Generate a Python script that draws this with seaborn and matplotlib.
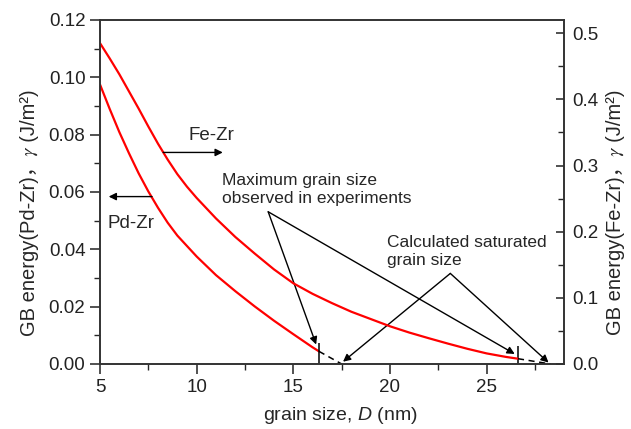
import matplotlib
matplotlib.use("Agg")
import matplotlib.pyplot as plt
import seaborn as sns
from matplotlib.ticker import MultipleLocator, FormatStrFormatter

# ---- data ----
pd_x = [5.0, 5.5, 6.0, 6.5, 7.0, 7.5, 8.0, 8.5, 9.0, 10.0, 11.0, 12.0, 13.0, 14.0, 15.0, 16.0, 16.33]
pd_y = [0.0975, 0.0890, 0.0809, 0.0735, 0.0665, 0.0602, 0.0545, 0.0493, 0.0448, 0.0375,
        0.0310, 0.0254, 0.0201, 0.0151, 0.0104, 0.0058, 0.0044]
fe_x = [5.0, 5.5, 6.0, 6.5, 7.0, 7.5, 8.0, 8.5, 9.0, 9.5, 10.0, 11.0, 12.0, 13.0, 14.0, 15.0,
        16.0, 17.0, 18.0, 19.0, 20.0, 21.0, 22.0, 23.0, 24.0, 25.0, 26.0, 26.62]
fe_y = [0.485, 0.462, 0.438, 0.412, 0.386, 0.359, 0.333, 0.309, 0.287, 0.268, 0.251, 0.220,
        0.192, 0.167, 0.143, 0.122, 0.106, 0.092, 0.079, 0.068, 0.057, 0.0475, 0.0390,
        0.0308, 0.0230, 0.0160, 0.0107, 0.008]
pd_ext_x = [16.33, 17.5]
pd_ext_y = [0.0044, 0.0]
fe_ext_x = [26.62, 28.3]
fe_ext_y = [0.008, 0.0]
max_obs = [16.33, 26.62]          # maximum grain size observed in experiments
saturated = [17.5, 28.2]          # calculated saturated grain size

sns.set_style("ticks")
plt.rcParams['font.family'] = ['Liberation Sans', 'Noto Sans CJK SC', 'STIXGeneral', 'DejaVu Sans']
plt.rcParams['mathtext.fontset'] = 'custom'
plt.rcParams['mathtext.rm'] = 'Liberation Sans'
plt.rcParams['mathtext.it'] = 'Liberation Sans:italic'

fig = plt.figure(figsize=(6.31, 4.29), dpi=100)
ax = fig.add_axes([100/631, 1-364/429, 464/631, 344/429])
ax2 = ax.twinx()

sns.lineplot(x=pd_x, y=pd_y, ax=ax, color='#ff0000', lw=1.6)
sns.lineplot(x=pd_ext_x, y=pd_ext_y, ax=ax, color='black', lw=1.1, linestyle=(0, (4, 3)))
sns.lineplot(x=fe_x, y=fe_y, ax=ax2, color='#ff0000', lw=1.6)
sns.lineplot(x=fe_ext_x, y=fe_ext_y, ax=ax2, color='black', lw=1.1, linestyle=(0, (4, 3)))

ax.vlines(max_obs, 0, [0.0073, 0.0062], color='black', lw=1.1)

ax.set_xlim(5, 29)
ax.set_ylim(0, 0.12)
ax2.set_ylim(0, 0.52)

ax.xaxis.set_major_locator(MultipleLocator(5))
ax.xaxis.set_minor_locator(MultipleLocator(2.5))
ax.yaxis.set_major_locator(MultipleLocator(0.02))
ax.yaxis.set_minor_locator(MultipleLocator(0.01))
ax.yaxis.set_major_formatter(FormatStrFormatter('%.2f'))
ax2.yaxis.set_major_locator(MultipleLocator(0.1))
ax2.yaxis.set_minor_locator(MultipleLocator(0.05))
ax2.yaxis.set_major_formatter(FormatStrFormatter('%.1f'))

for a in (ax, ax2):
    for s in a.spines.values():
        s.set_visible(True)
        s.set_linewidth(1.2)
        s.set_color('#333333')
ax.tick_params(axis='both', which='major', direction='out', length=7, width=1.1,
               labelsize=13.5, colors='#222222', right=False, top=False)
ax.tick_params(axis='both', which='minor', direction='out', length=4, width=1.0,
               right=False, top=False)
ax2.tick_params(axis='y', which='major', direction='in', length=6, width=1.1,
                labelsize=13.5, colors='#222222', pad=6)
ax2.tick_params(axis='y', which='minor', direction='in', length=4, width=1.0)

ax.set_xlabel("grain size, $\\mathit{D}$ (nm)", fontsize=14)
ax.xaxis.set_label_coords(0.518, -0.118)
ylab_l = "GB energy(Pd-Zr)，\U0001D6FE (J/m²)"
ylab_r = "GB energy(Fe-Zr)，\U0001D6FE (J/m²)"
ax.set_ylabel(ylab_l, fontsize=14.5)
ax.yaxis.set_label_coords(-0.131, 0.44)
ax2.set_ylabel(ylab_r, fontsize=14.5)
ax2.yaxis.set_label_coords(1.09, 0.44)

aprops = dict(arrowstyle='-|>', color='black', lw=1.0, mutation_scale=11,
              shrinkA=0, shrinkB=0)

# curve labels
ax2.annotate("", xy=(11.35, 0.3198), xytext=(8.27, 0.3198), arrowprops=aprops)
ax2.text(9.6, 0.346, "Fe-Zr", fontsize=13.5, ha='left', va='center')
ax.annotate("", xy=(5.45, 0.0584), xytext=(7.69, 0.0584), arrowprops=aprops)
ax.text(5.4, 0.049, "Pd-Zr", fontsize=13.5, ha='left', va='center')

# maximum grain size annotation
ax.text(11.29, 0.0610, "Maximum grain size\nobserved in experiments", fontsize=12.5,
        ha='left', va='center', linespacing=1.25)
ax.annotate("", xy=(16.18, 0.0068), xytext=(13.70, 0.0531), arrowprops=aprops)
ax.annotate("", xy=(26.45, 0.0035), xytext=(13.70, 0.0531), arrowprops=aprops)

# saturated grain size annotation
ax.text(19.87, 0.0394, "Calculated saturated\ngrain size", fontsize=12.5,
        ha='left', va='center', linespacing=1.25, clip_on=False)
ax.annotate("", xy=(saturated[0] + 0.07, 0.0008), xytext=(23.12, 0.0316), arrowprops=aprops)
ax.annotate("", xy=(saturated[1], 0.0005), xytext=(23.12, 0.0316), arrowprops=aprops)

fig.savefig("out.png", dpi=100)
